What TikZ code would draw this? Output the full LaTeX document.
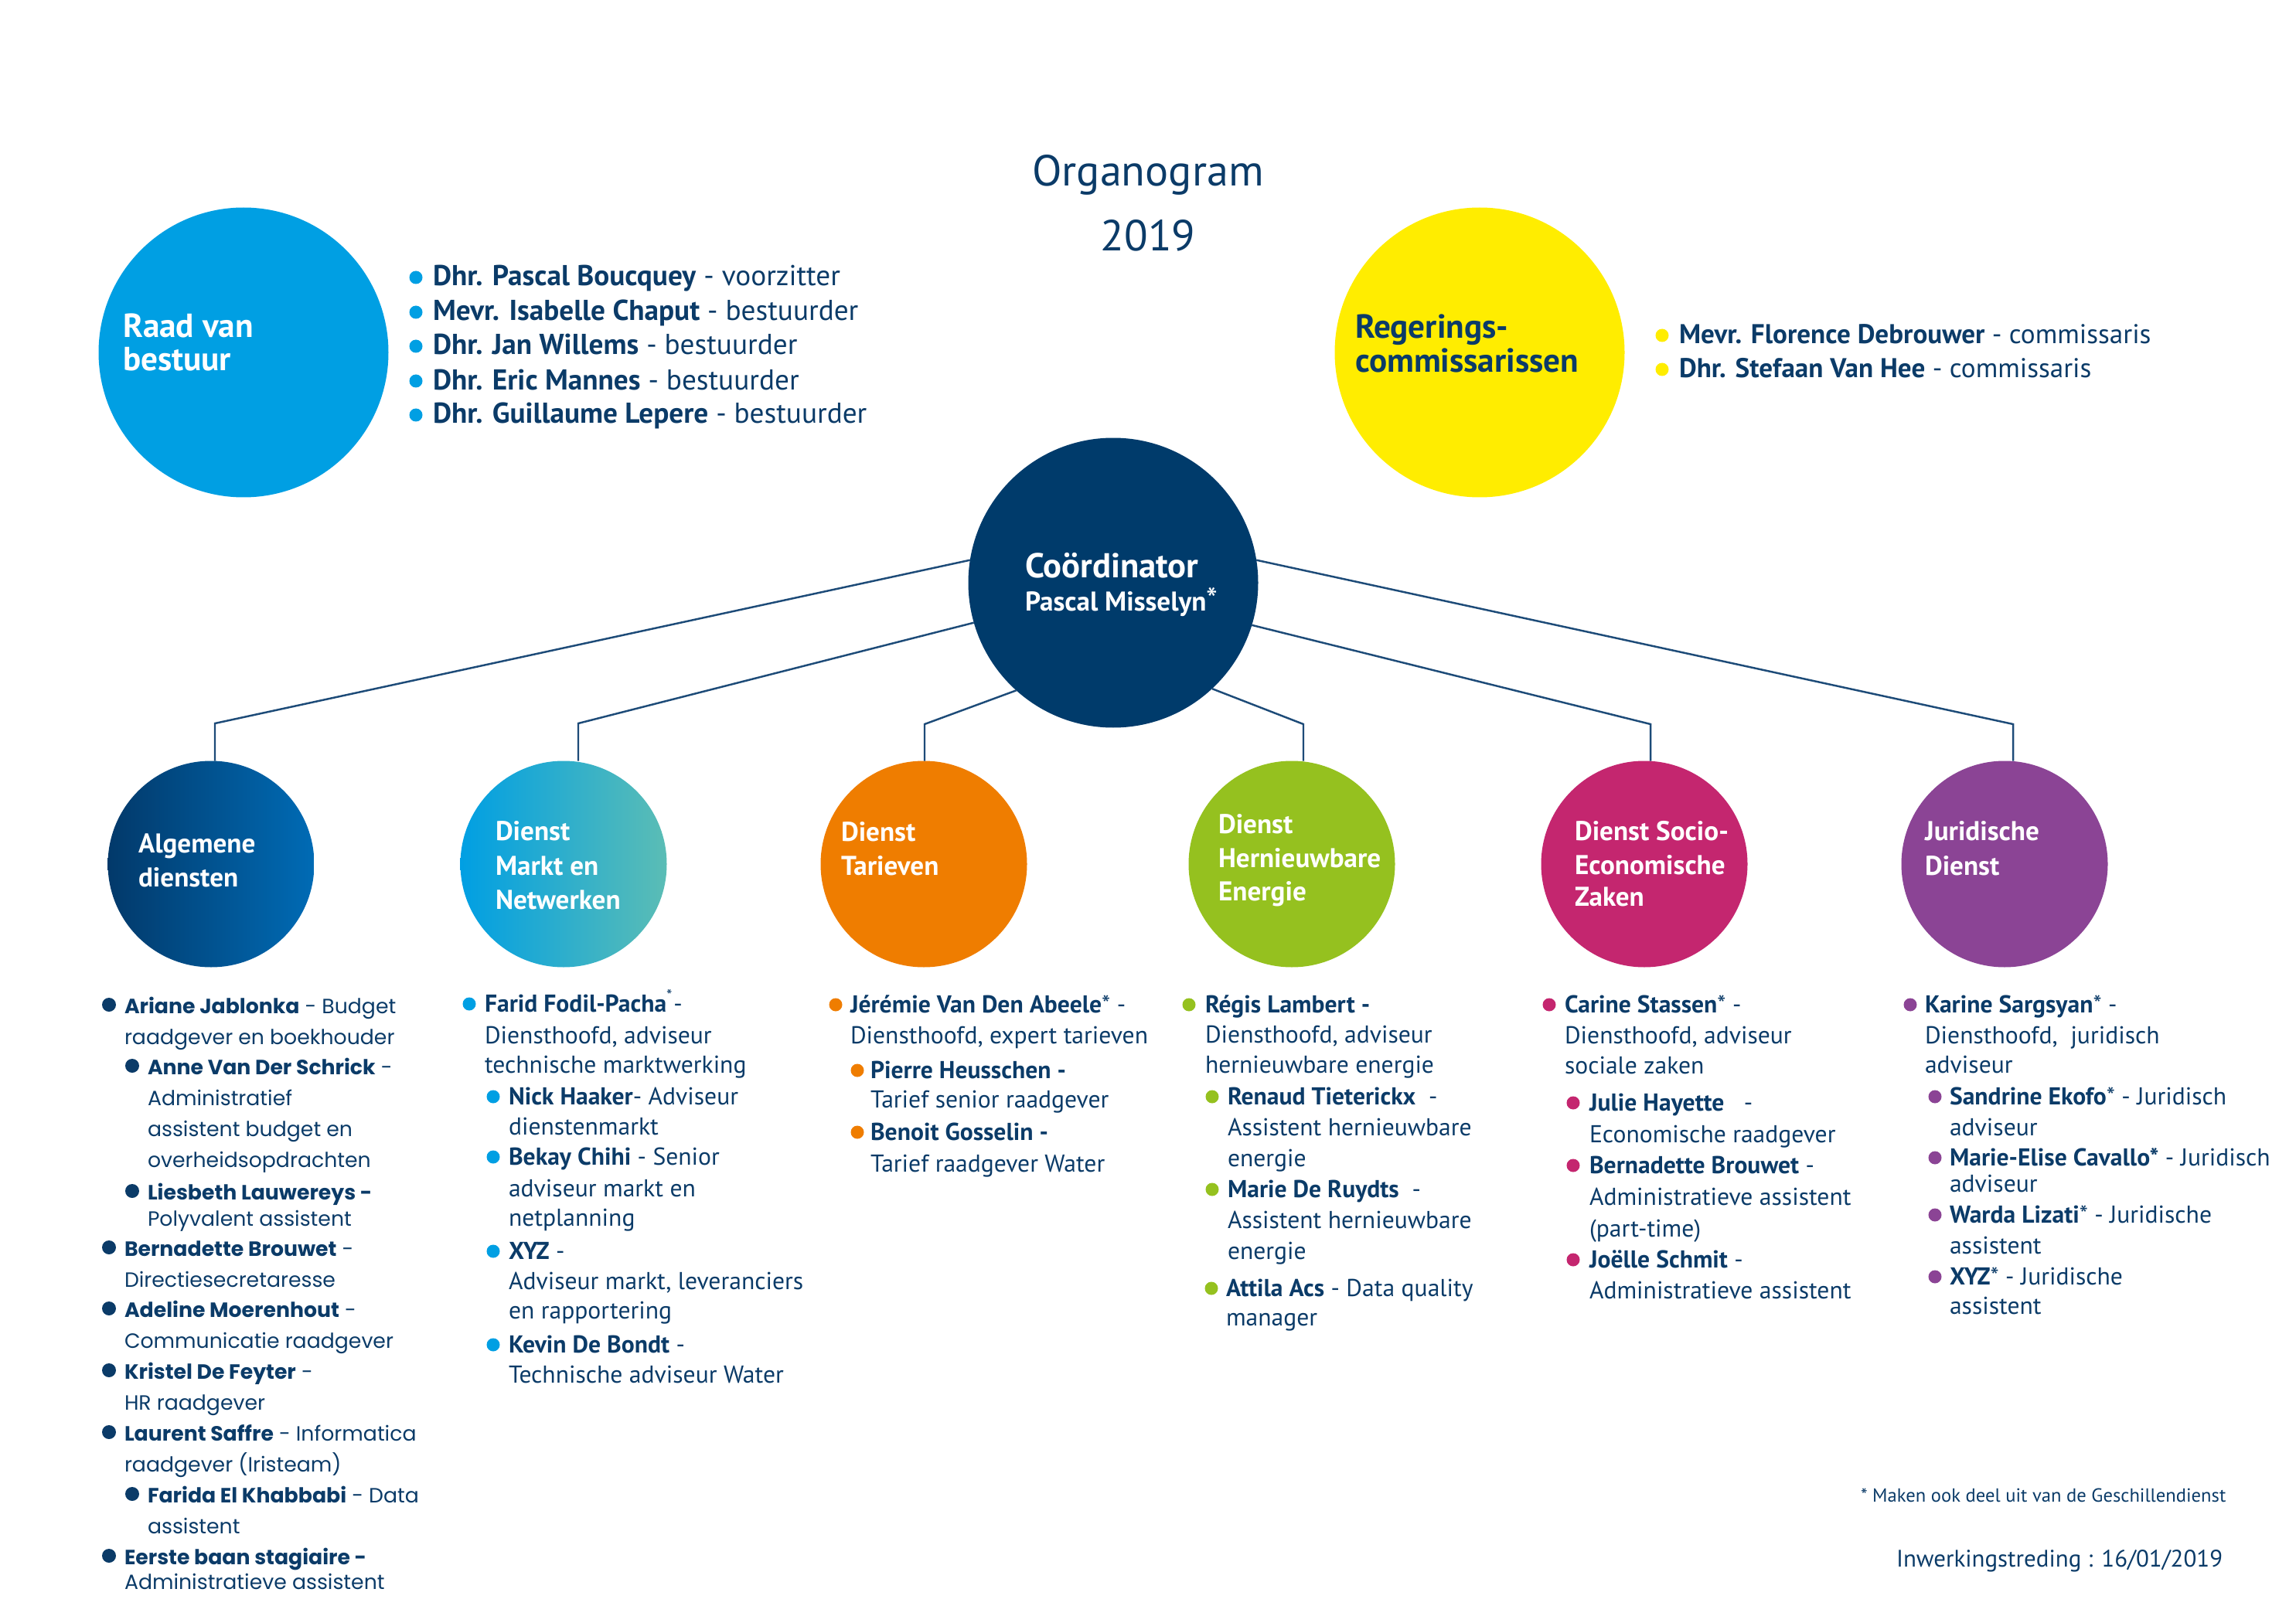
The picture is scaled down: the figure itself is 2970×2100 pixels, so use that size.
\documentclass[tikz,border=0pt]{standalone}
\usepackage{fontspec}
\setmainfont{PT Sans}
\newfontfamily\popf{Poppins}
\usetikzlibrary{calc}
\definecolor{navy}{HTML}{0B3B68}
\definecolor{coordc}{HTML}{003B6B}
\definecolor{raadc}{HTML}{009FE3}
\definecolor{regc}{HTML}{FFED00}
\definecolor{tarc}{HTML}{EF7D00}
\definecolor{herc}{HTML}{95C11F}
\definecolor{socc}{HTML}{C4266F}
\definecolor{jurc}{HTML}{8B4495}
\definecolor{linec}{HTML}{1D4B78}
\definecolor{algl}{HTML}{02396A}
\definecolor{algm}{HTML}{00528F}
\definecolor{algr}{HTML}{006BB5}
\definecolor{mktl}{HTML}{009FE3}
\definecolor{mktm}{HTML}{05AFD3}
\definecolor{mktr}{HTML}{5BBDB5}
\newcommand\fntAlg{\popf\fontsize{7.6}{9}\selectfont}
\newcommand\fntStd{\fontsize{9}{11}\selectfont}
\newcommand\fntTop{\fontsize{10}{12}\selectfont}
\newcommand\fntRaad{\fontsize{10.6}{12}\selectfont}
\begin{document}
\begin{tikzpicture}[x=0.1mm,y=-0.1mm,
  every node/.style={inner sep=0pt, outer sep=0pt},
  bigc/.style={circle, minimum size=37.5mm},
  depc/.style={circle, minimum size=26.7mm},
  ltxt/.style={anchor=base west, text=navy},
  wtxt/.style={anchor=base west, text=white, font=\bfseries\fontsize{10}{12}\selectfont},
  conn/.style={draw=linec, line width=0.7pt}]
\useasboundingbox (0,0) rectangle (2970,2100);

% title
\node[anchor=base, text=navy, font=\fontsize{16}{19}\selectfont] (title) at (1485,241) {Organogram};
\node[anchor=base, text=navy, font=\fontsize{16}{19}\selectfont] (year) at (1485,325) {2019};

% big circles
\node[bigc, fill=raadc] (raad) at (315,456) {};
\node[bigc, fill=regc] (reg) at (1914,456) {};
\node[bigc, fill=coordc] (co) at (1440,754) {};

\node[wtxt, font=\bfseries\fontsize{12.3}{14}\selectfont] (raad-t1) at (159,437) {Raad van};
\node[wtxt, font=\bfseries\fontsize{12.3}{14}\selectfont] (raad-t2) at (159,480) {bestuur};
\node[wtxt, text=navy, font=\bfseries\fontsize{12.3}{14}\selectfont] (reg-t1) at (1753,438) {Regerings-};
\node[wtxt, text=navy, font=\bfseries\fontsize{12.3}{14}\selectfont] (reg-t2) at (1753,482) {commissarissen};
\node[wtxt, font=\bfseries\fontsize{12.7}{15}\selectfont] (co-t1) at (1326,747) {Coördinator};
\node[wtxt, font=\bfseries\fontsize{10}{12}\selectfont] (co-t2) at (1326,790) {Pascal Misselyn{\mdseries\fontsize{12}{12}\selectfont *}};

% department circles
\node[depc, left color=algl, middle color=algm, right color=algr] (alg) at (273,1118) {};
\node[depc, left color=mktl, middle color=mktm, right color=mktr] (mkt) at (729,1118) {};
\node[depc, fill=tarc] (tar) at (1195,1118) {};
\node[depc, fill=herc] (her) at (1671,1118) {};
\node[depc, fill=socc] (soc) at (2127,1118) {};
\node[depc, fill=jurc] (jur) at (2593,1118) {};

\node[wtxt] (alg-t1) at (179,1103) {Algemene};
\node[wtxt] (alg-t2) at (179,1147) {diensten};
\node[wtxt] (mkt-t1) at (641,1087) {Dienst};
\node[wtxt] (mkt-t2) at (641,1132) {Markt en};
\node[wtxt] (mkt-t3) at (641,1176) {Netwerken};
\node[wtxt] (tar-t1) at (1088,1088) {Dienst};
\node[wtxt] (tar-t2) at (1088,1132) {Tarieven};
\node[wtxt] (her-t1) at (1576,1078) {Dienst};
\node[wtxt] (her-t2) at (1576,1122) {Hernieuwbare};
\node[wtxt] (her-t3) at (1576,1165) {Energie};
\node[wtxt] (soc-t1) at (2037,1087) {Dienst Socio-};
\node[wtxt] (soc-t2) at (2037,1131) {Economische};
\node[wtxt] (soc-t3) at (2037,1172) {Zaken};
\node[wtxt] (jur-t1) at (2490,1087) {Juridische};
\node[wtxt] (jur-t2) at (2490,1132) {Dienst};

% connectors
\coordinate (b1) at (278,936);
\coordinate (b2) at (748,936);
\coordinate (b3) at (1196,937);
\coordinate (b4) at (1686,937);
\coordinate (b5) at (2135,937);
\coordinate (b6) at (2604,937);
\draw[conn] (co.171) -- (b1) -- (b1 |- alg.north);
\draw[conn] (co.196) -- (b2) -- (b2 |- mkt.north);
\draw[conn] (co.228) -- (b3) -- (b3 |- tar.north);
\draw[conn] (co.313) -- (b4) -- (b4 |- her.north);
\draw[conn] (co.343) -- (b5) -- (b5 |- soc.north);
\draw[conn] (co.9) -- (b6) -- (b6 |- jur.north);

% Raad van bestuur list
\foreach \y/\t [count=\i] in {
  370/{\textbf{Dhr. Pascal Boucquey} - voorzitter},
  415/{\textbf{Mevr. Isabelle Chaput} - bestuurder},
  459/{\textbf{Dhr. Jan Willems} - bestuurder},
  504/{\textbf{Dhr. Eric Mannes} - bestuurder},
  548/{\textbf{Dhr. Guillaume Lepere} - bestuurder}}
  {\node[ltxt, font=\fntRaad] (raad-l\i) at (560,\y) {\t};
   \fill[raadc] (538,\y-11) circle[radius=0.85mm];}

% Regeringscommissarissen list
\foreach \y/\t [count=\i] in {
  445/{\textbf{Mevr. Florence Debrouwer} - commissaris},
  489/{\textbf{Dhr. Stefaan Van Hee} - commissaris}}
  {\node[ltxt, font=\fntTop] (reg-l\i) at (2172,\y) {\t};
   \fill[regc] (2150,\y-11) circle[radius=0.85mm];}

% Algemene diensten list
\foreach \x/\y/\t [count=\i] in {
  161/1311/{\textbf{Ariane Jablonka} - Budget},
  161/1351/{raadgever en boekhouder},
  191/1390/{\textbf{Anne Van Der Schrick} -},
  191/1430/{Administratief},
  191/1470/{assistent budget en},
  191/1510/{overheidsopdrachten},
  191/1552/{\textbf{Liesbeth Lauwereys -}},
  191/1586/{Polyvalent assistent},
  161/1625/{\textbf{Bernadette Brouwet} -},
  161/1665/{Directiesecretaresse},
  161/1704/{\textbf{Adeline Moerenhout} -},
  161/1744/{Communicatie raadgever},
  161/1784/{\textbf{Kristel De Feyter} -},
  161/1824/{HR raadgever},
  161/1864/{\textbf{Laurent Saffre} - Informatica},
  161/1904/{raadgever (Iristeam)},
  191/1944/{\textbf{Farida El Khabbabi} - Data},
  191/1984/{assistent},
  161/2024/{\textbf{Eerste baan stagiaire -}},
  161/2056/{Administratieve assistent}}
  {\node[ltxt, font=\fntAlg] (alg-l\i) at (\x,\y) {\t};}
\foreach \x/\y in {141/1300,171/1379,171/1541,141/1614,141/1693,141/1773,141/1853,171/1933,141/2013}
  {\fill[navy] (\x,\y) circle[radius=0.9mm];}

% Markt en Netwerken list
\foreach \x/\y/\t [count=\i] in {
  627/1309/{\textbf{Farid Fodil-Pacha}\textsuperscript{*}-},
  627/1350/{Diensthoofd, adviseur},
  627/1388/{technische marktwerking},
  658/1429/{\textbf{Nick Haaker}- Adviseur},
  658/1468/{dienstenmarkt},
  658/1507/{\textbf{Bekay Chihi} - Senior},
  658/1548/{adviseur markt en},
  658/1586/{netplanning},
  658/1629/{\textbf{XYZ} -},
  658/1668/{Adviseur markt, leveranciers},
  658/1706/{en rapportering},
  658/1750/{\textbf{Kevin De Bondt} -},
  658/1789/{Technische adviseur Water}}
  {\node[ltxt, font=\fntStd] (mkt-l\i) at (\x,\y) {\t};}
\foreach \x/\y in {607/1299,638/1419,638/1497,638/1619,638/1740}
  {\fill[raadc] (\x,\y) circle[radius=0.85mm];}

% Tarieven list
\foreach \x/\y/\t [count=\i] in {
  1100/1310/{\textbf{Jérémie Van Den Abeele}* -},
  1100/1350/{Diensthoofd, expert tarieven},
  1126/1395/{\textbf{Pierre Heusschen -}},
  1126/1433/{Tarief senior raadgever},
  1126/1475/{\textbf{Benoit Gosselin -}},
  1126/1516/{Tarief raadgever Water}}
  {\node[ltxt, font=\fntStd] (tar-l\i) at (\x,\y) {\t};}
\foreach \x/\y in {1081/1300,1109/1385,1109/1465}
  {\fill[tarc] (\x,\y) circle[radius=0.85mm];}

% Hernieuwbare Energie list
\foreach \x/\y/\t [count=\i] in {
  1559/1310/{\textbf{Régis Lambert -}},
  1559/1349/{Diensthoofd, adviseur},
  1559/1388/{hernieuwbare energie},
  1588/1429/{\textbf{Renaud Tieterickx}\ \ -},
  1588/1469/{Assistent hernieuwbare},
  1588/1509/{energie},
  1588/1549/{\textbf{Marie De Ruydts}\ \ -},
  1588/1589/{Assistent hernieuwbare},
  1588/1629/{energie},
  1586/1677/{\textbf{Attila Acs} - Data quality},
  1586/1715/{manager}}
  {\node[ltxt, font=\fntStd] (her-l\i) at (\x,\y) {\t};}
\foreach \x/\y in {1538/1300,1568/1419,1568/1539,1567/1667}
  {\fill[herc] (\x,\y) circle[radius=0.85mm];}

% Socio-Economische Zaken list
\foreach \x/\y/\t [count=\i] in {
  2024/1310/{\textbf{Carine Stassen}* -},
  2024/1350/{Diensthoofd, adviseur},
  2024/1389/{sociale zaken},
  2056/1437/{\textbf{Julie Hayette}\ \ \ -},
  2056/1478/{Economische raadgever},
  2056/1518/{\textbf{Bernadette Brouwet} -},
  2056/1559/{Administratieve assistent},
  2056/1600/{(part-time)},
  2056/1640/{\textbf{Joëlle Schmit} -},
  2056/1680/{Administratieve assistent}}
  {\node[ltxt, font=\fntStd] (soc-l\i) at (\x,\y) {\t};}
\foreach \x/\y in {2004/1300,2035/1427,2035/1508,2035/1630}
  {\fill[socc] (\x,\y) circle[radius=0.85mm];}

% Juridische Dienst list
\foreach \x/\y/\t [count=\i] in {
  2490/1310/{\textbf{Karine Sargsyan}* -},
  2490/1350/{Diensthoofd,\ \ juridisch},
  2490/1388/{adviseur},
  2522/1429/{\textbf{Sandrine Ekofo}* - Juridisch},
  2522/1469/{adviseur},
  2522/1508/{\textbf{Marie-Elise Cavallo*} - Juridisch},
  2522/1542/{adviseur},
  2522/1582/{\textbf{Warda Lizati}* - Juridische},
  2522/1622/{assistent},
  2522/1662/{\textbf{XYZ}* - Juridische},
  2522/1700/{assistent}}
  {\node[ltxt, font=\fntStd] (jur-l\i) at (\x,\y) {\t};}
\foreach \x/\y in {2471/1300,2503/1419,2503/1498,2503/1572,2503/1652}
  {\fill[jurc] (\x,\y) circle[radius=0.85mm];}

% footer
\node[ltxt, font=\fontsize{7}{9}\selectfont] (note) at (2407,1943) {* Maken ook deel uit van de Geschillendienst};
\node[ltxt, font=\fontsize{8.8}{11}\selectfont] (date) at (2453,2027) {Inwerkingstreding : 16/01/2019};
\end{tikzpicture}
\end{document}
